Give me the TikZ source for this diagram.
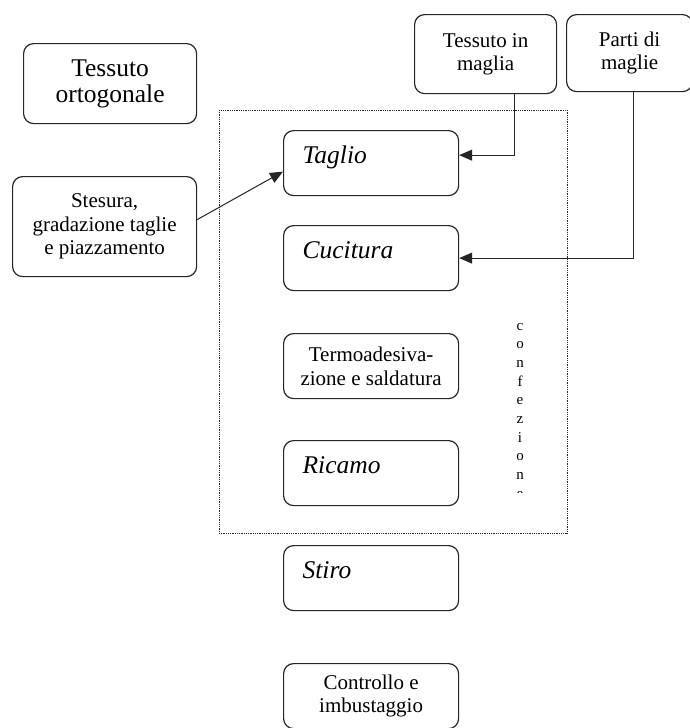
\documentclass[tikz,border=0pt]{standalone}
\usepackage{fontspec}
\setmainfont{Liberation Serif}
\usetikzlibrary{arrows.meta,calc}

\newlength{\du}
\setlength{\du}{1pt}
\definecolor{dialinecolor}{rgb}{0.150000, 0.150000, 0.150000}

\begin{document}
\begin{tikzpicture}[yscale=-1,
  scatola/.style={draw=dialinecolor, line width=1.2\du, rounded corners=10\du,
    anchor=north west, inner sep=0pt, align=center,
    font=\fontsize{21\du}{23.5\du}\selectfont},
  fase/.style={scatola, minimum width=175\du, minimum height=65\du},
  faseit/.style={fase, align=left, text width=137\du, inner xsep=19\du,
    inner ysep=0pt, text height=33\du, text depth=32\du,
    font=\fontsize{25.5\du}{28\du}\selectfont\itshape},
  lettera/.style={anchor=base, inner sep=0pt, font=\fontsize{15\du}{16\du}\selectfont},
  freccia/.style={draw=dialinecolor, line width=1\du,
    -{Triangle[length=13pt,width=11pt]}}]
\useasboundingbox (0\du,0\du) rectangle (690\du,728\du);
\clip (0\du,0\du) rectangle (690\du,728\du);
\fill[white] (0\du,0\du) rectangle (690\du,728\du);

% gruppo confezione
\draw[dialinecolor, line width=0.8\du, densely dotted] (219\du,110\du) rectangle (567\du,533\du);
\begin{scope}
\clip (500\du,310\du) rectangle (540\du,492\du);
\foreach \l [count=\i from 0] in {c,o,n,f,e,z,i,o,n,e}
  \node[lettera] (conf-\i) at (520\du,330\du+18.7*\i\du) {\l};
\end{scope}

% ingressi
\node[scatola, minimum width=173\du, minimum height=80\du,
  font=\fontsize{25.5\du}{26\du}\selectfont] (ortogonale) at (23\du,43\du) {Tessuto\\ortogonale};
\node[scatola, minimum width=184\du, minimum height=100\du] (stesura) at (12\du,176\du)
  {Stesura,\\gradazione taglie\\e piazzamento};
\node[scatola, minimum width=142\du, minimum height=79\du] (maglia) at (414\du,14\du)
  {Tessuto in\\maglia};
\node[scatola, minimum width=126\du, minimum height=77\du] (parti) at (566\du,14\du)
  {Parti di\\maglie};

% fasi
\node[faseit] (taglio) at (283\du,130\du) {Taglio};
\node[faseit] (cucitura) at (283\du,225\du) {Cucitura};
\node[fase] (termo) at (283\du,333\du) {Termoadesiva-\\zione e saldatura};
\node[faseit] (ricamo) at (283\du,440\du) {Ricamo};
\node[faseit] (stiro) at (283\du,545\du) {Stiro};
\node[fase] (controllo) at (283\du,663\du) {Controllo e\\imbustaggio};

% collegamenti
\draw[freccia] ($(stesura.east)+(0,-7\du)$) -- ($(taglio.west)+(0,8.5\du)$);
\draw[freccia] ($(maglia.south west)!0.7!(maglia.south east)$) |- ($(taglio.north east)!0.38!(taglio.south east)$);
\draw[freccia] ($(parti.south)+(4\du,0)$) |- (cucitura.east);
\end{tikzpicture}
\end{document}
